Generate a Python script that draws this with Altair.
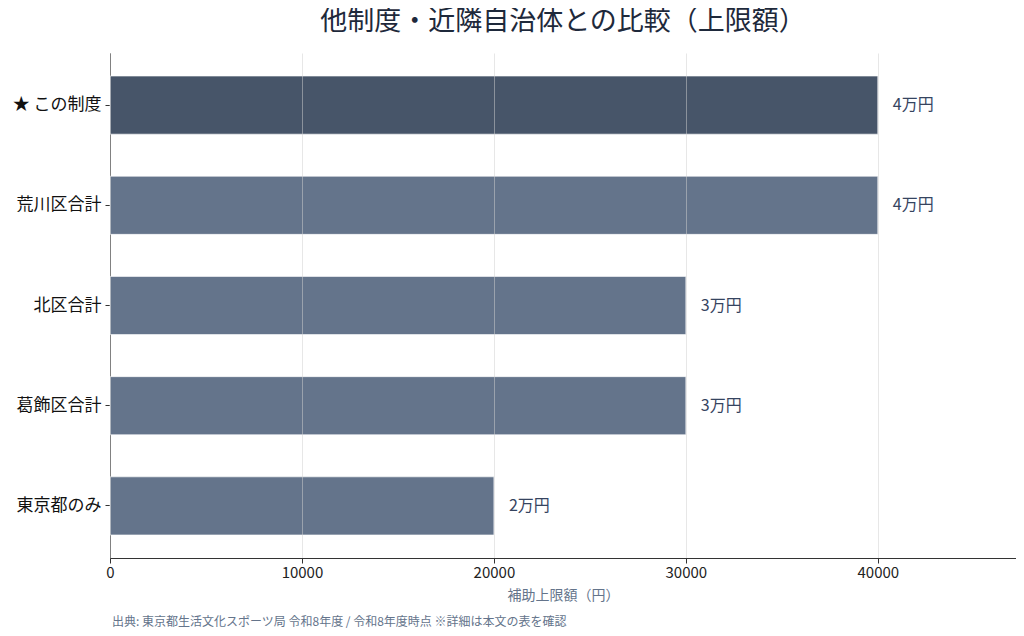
import altair as alt
import pandas as pd

categories = ["★ この制度", "荒川区合計", "北区合計", "葛飾区合計", "東京都のみ"]
values = [40000, 40000, 30000, 30000, 20000]
value_labels = ["4万円", "4万円", "3万円", "3万円", "2万円"]
highlight = ["this", "other", "other", "other", "other"]

title_text = "他制度・近隣自治体との比較（上限額）"
x_title = "補助上限額（円）"
footer_text = "出典: 東京都生活文化スポーツ局 令和8年度 / 令和8年度時点 ※詳細は本文の表を確認"
x_ticks = [0, 10000, 20000, 30000, 40000]

df = pd.DataFrame({
    "category": categories,
    "value": values,
    "label": value_labels,
    "group": highlight,
})

FONT = "Noto Sans CJK JP"

y_enc = alt.Y(
    "category:N",
    sort=categories,
    title=None,
    scale=alt.Scale(paddingInner=0.42, paddingOuter=0.23),
    axis=alt.Axis(
        labelFontSize=17, labelColor="#111111", labelFont=FONT,
        domainColor="#333333", tickColor="#333333", tickSize=5,
        labelPadding=4, grid=False, domainWidth=1,
    ),
)

x_enc = alt.X(
    "value:Q",
    scale=alt.Scale(domain=[0, 47200], nice=False),
    axis=alt.Axis(
        values=x_ticks, format="d", title=x_title, labelFlush=False,
        labelFontSize=15, labelColor="#222222", labelFont=FONT,
        titleFontSize=14, titleColor="#64748b", titleFont=FONT, titleFontWeight="normal",
        titlePadding=8,
        domainColor="#333333", tickColor="#333333", tickSize=5, domainWidth=1,
        grid=True, gridColor="#cfcfcf", gridOpacity=0.5, gridWidth=1,
        zindex=1,
    ),
)

bars = alt.Chart(df).mark_bar(stroke="#ffffff", strokeOpacity=0.6, strokeWidth=1).encode(
    x=x_enc,
    y=y_enc,
    color=alt.Color(
        "group:N",
        scale=alt.Scale(domain=["this", "other"], range=["#475569", "#64748b"]),
        legend=None,
    ),
)

texts = alt.Chart(df).mark_text(
    align="left", baseline="middle", dx=15, fontSize=16, color="#36445f", font=FONT
).encode(
    x="value:Q",
    y=alt.Y("category:N", sort=categories),
    text="label:N",
)

footer = alt.Chart(pd.DataFrame({"t": [footer_text]})).mark_text(
    align="left", baseline="middle", fontSize=12, color="#64748b", font=FONT
).encode(
    x=alt.value(2),
    y=alt.value(569),
    text="t:N",
)

chart = alt.layer(bars, texts, footer).properties(
    width=906,
    height=505,
    background="#ffffff",
    title=alt.TitleParams(
        text=title_text, fontSize=27, color="#1e293b", font=FONT,
        fontWeight="normal", anchor="middle", frame="group", offset=17,
    ),
    autosize=alt.AutoSizeParams(type="none"),
    padding={"left": 102, "top": 45, "right": 0, "bottom": 78},
).configure_view(strokeWidth=0, stroke="transparent")

chart.save("out.html", embed_options={"renderer": "svg", "actions": False})
